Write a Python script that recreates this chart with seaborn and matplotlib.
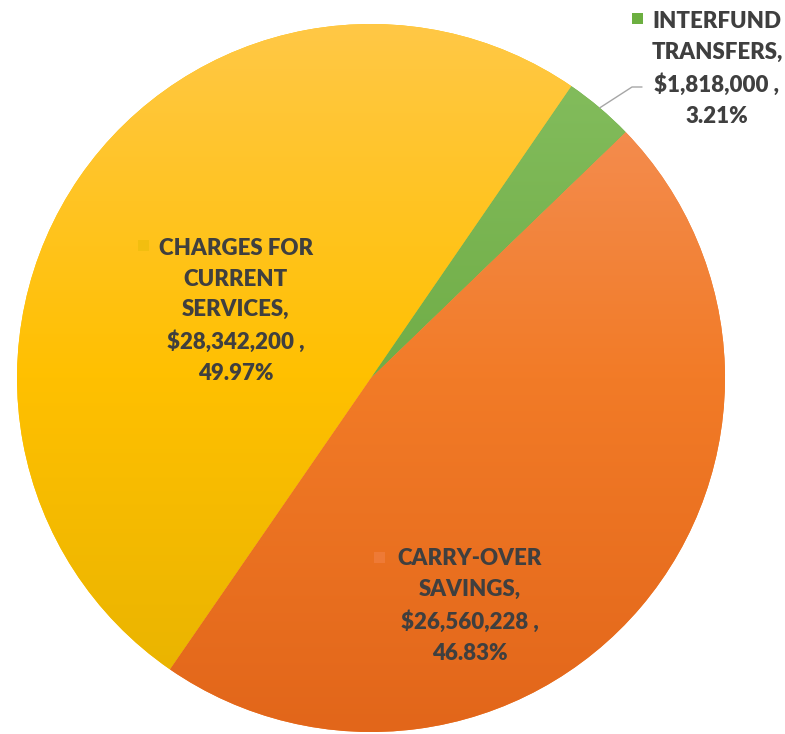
import numpy as np
import matplotlib
matplotlib.use("Agg")
import matplotlib.pyplot as plt
from matplotlib.colors import LinearSegmentedColormap
from matplotlib.patches import Rectangle
import seaborn as sns

# slice order as drawn, clockwise
categories = ["CHARGES FOR\nCURRENT\nSERVICES", "INTERFUND\nTRANSFERS", "CARRY-OVER\nSAVINGS"]
amounts = [28342200, 1818000, 26560228]
# gradient stops per slice: top, middle, bottom
top_colors = ["#FFC846", "#86BF60", "#F4935E"]
mid_colors = ["#FFC000", "#70AD47", "#F27B27"]
bottom_colors = ["#E6B200", "#5C9C32", "#E2661A"]

sns.set_theme(style="white")
plt.rcParams["font.family"] = ["Lato", "DejaVu Sans"]

W, H, DPI = 785, 734, 100
cx, cy, R = 371, 378, 354  # pie centre / radius in pixels


def to_data(px, py):
    return (px - cx) / R, (cy - py) / R


fig = plt.figure(figsize=(W / DPI, H / DPI), dpi=DPI)
ax = fig.add_axes([0, 0, 1, 1])

wedges, _ = ax.pie(amounts, startangle=90 - 214.6, counterclock=False,
                   colors=mid_colors, wedgeprops=dict(linewidth=0), radius=1.0)

# vertical gradient fill, clipped to each wedge
grad = np.linspace(0, 1, 256).reshape(-1, 1)
for w, t, m, b in zip(wedges, top_colors, mid_colors, bottom_colors):
    cmap = LinearSegmentedColormap.from_list("g", [t, m, b])
    im = ax.imshow(grad, cmap=cmap, extent=(-1, 1, -1, 1), origin="upper",
                   aspect="auto", zorder=2)
    im.set_clip_path(w)

ax.set_xlim(to_data(0, 0)[0], to_data(W, 0)[0])
ax.set_ylim(to_data(0, H)[1], to_data(0, 0)[1])
ax.set_aspect("auto")
ax.axis("off")

total = sum(amounts)
pcts = [a / total * 100 for a in amounts]
labels = [f"{c},\n${a:,} ,\n{p:.2f}%" for c, a, p in zip(categories, amounts, pcts)]

# label centres and key-square positions (pixels)
label_pos = [(236, 311), (717, 69), (470, 606)]
key_pos = [(143, 245), (638, 18), (380, 557)]
key_colors = ["#F2BE10", "#6CAF40", "#EE7A36"]

for lab, (px, py), (kx, ky), kc in zip(labels, label_pos, key_pos, key_colors):
    x, y = to_data(px, py)
    ax.text(x, y, lab, ha="center", va="center", fontsize=16, fontweight="heavy",
            color="#3F3F3F", linespacing=1.56, zorder=5)
    s = 11 / R
    kx_d, ky_d = to_data(kx, ky)
    ax.add_patch(Rectangle((kx_d - s / 2, ky_d - s / 2), s, s, color=kc, lw=0, zorder=5))

# leader line for the small slice
w = wedges[1]
ang = np.deg2rad((w.theta1 + w.theta2) / 2)
x0, y0 = np.cos(ang), np.sin(ang)
x1, y1 = to_data(632, 87)
x2, y2 = to_data(642, 87)
ax.plot([x0, x1, x2], [y0, y1, y2], color="#A6A6A6", lw=1, zorder=4)

fig.savefig("out.png", dpi=DPI)
